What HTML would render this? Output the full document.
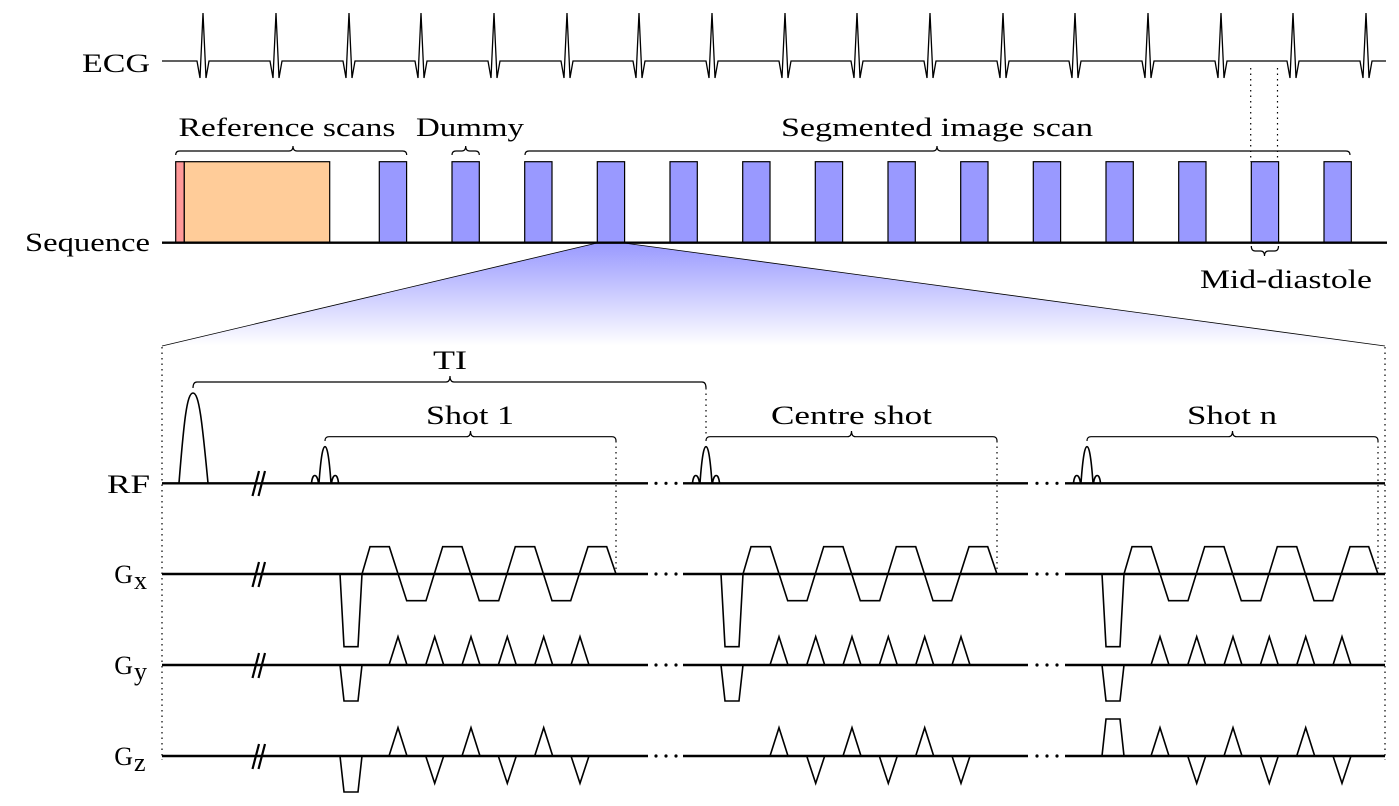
<!DOCTYPE html>
<html><head><meta charset="utf-8"><style>html,body{margin:0;padding:0;background:#fff}svg{display:block}text{font-family:"Liberation Serif",serif;font-size:26px;fill:#000}</style></head>
<body>
<svg width="1399" height="806" viewBox="0 0 1399 806" xmlns="http://www.w3.org/2000/svg">
<defs>
<linearGradient id="fan" x1="0" y1="0" x2="0" y2="1">
<stop offset="0" stop-color="#9999ff"/><stop offset="1" stop-color="#ffffff"/>
</linearGradient>
<g id="shot" fill="none" stroke="#000" stroke-width="1.6" stroke-linejoin="miter">
<path d="M319,483 C321,455 323,446.7 325,446.7 C327,446.7 329,455 331,483"/>
<path d="M311.5,483 C312.5,473 317,473 318.5,483"/>
<path d="M331.5,483 C333,473 337.5,473 338.5,483"/>
<path d="M325,441 Q325,436.7 329,436.7 L466.5,436.7 Q470.5,436.7 470.5,431 Q470.5,436.7 474.5,436.7 L612,436.7 Q616,436.7 616,441" stroke-width="1.2"/>
<line x1="616" y1="441" x2="616" y2="574" stroke-width="1.2" stroke-dasharray="1.5,4"/>
<path d="M340,574 L344,646.7 L358,646.7 L362,574 L370,546.7 L389.3,546.7 L406.7,600.7 L426,600.7 L442.7,546.7 L462,546.7 L479.3,600.7 L498.7,600.7 L515.3,546.7 L534.7,546.7 L552,600.7 L570.7,600.7 L588,546.7 L606.7,546.7 L616,574"/>
<path d="M340,665 L344,701 L358,701 L362,665"/>
<path d="M389,665 L398,636.7 L407,665 M425.7,665 L434.7,636.7 L443.7,665 M462,665 L471,636.7 L480,665 M498.3,665 L507.3,636.7 L516.3,665 M534.7,665 L543.7,636.7 L552.7,665 M571,665 L580,636.7 L589,665"/>
<path d="M389,756 L398,727.7 L407,756 M462,756 L471,727.7 L480,756 M534.7,756 L543.7,727.7 L552.7,756"/>
<path d="M425.7,756 L434.7,783.3 L443.7,756 M498.3,756 L507.3,783.3 L516.3,756 M571,756 L580,783.3 L589,756"/>
</g>
</defs>

<polyline fill="none" stroke="#000" stroke-width="1.3" points="162,61 197,61 200,78 203,13 206,78 209,61 270,61 273,78 276,13 279,78 282,61 343,61 346,78 349,13 352,78 355,61 415,61 418,78 421,13 424,78 427,61 488,61 491,78 494,13 497,78 500,61 561,61 564,78 567,13 570,78 573,61 633,61 636,78 639,13 642,78 645,61 706,61 709,78 712,13 715,78 718,61 779,61 782,78 785,13 788,78 791,61 851,61 854,78 857,13 860,78 863,61 924,61 927,78 930,13 933,78 936,61 997,61 1000,78 1003,13 1006,78 1009,61 1069,61 1072,78 1075,13 1078,78 1081,61 1142,61 1145,78 1148,13 1151,78 1154,61 1215,61 1218,78 1221,13 1224,78 1227,61 1287,61 1290,78 1293,13 1296,78 1299,61 1360,61 1363,78 1366,13 1369,78 1372,61 1386,61"/>
<text x="150" y="72" text-anchor="end" textLength="68" lengthAdjust="spacingAndGlyphs">ECG</text>

<g stroke="#000" stroke-width="1.2" stroke-dasharray="1.5,4">
<line x1="1250.7" y1="68" x2="1250.7" y2="162"/>
<line x1="1277.5" y1="68" x2="1277.5" y2="162"/>
</g>

<polygon points="597,243 624,243 1385,346 162,346" fill="url(#fan)"/>
<g stroke="#000" stroke-width="0.8">
<line x1="597" y1="243" x2="162" y2="346"/>
<line x1="624" y1="243" x2="1385" y2="346"/>
</g>

<g stroke="#000" stroke-width="1.2">
<rect x="175.7" y="161.7" width="8.6" height="81" fill="#ff9999"/>
<rect x="184.3" y="161.7" width="145.4" height="81" fill="#ffcc99"/>
<g fill="#9999ff">
<rect x="379.3" y="161.7" width="27.3" height="81"/>
<rect x="452" y="161.7" width="27.3" height="81"/>
<rect x="524.7" y="161.7" width="27.3" height="81"/>
<rect x="597.3" y="161.7" width="27.3" height="81"/>
<rect x="670" y="161.7" width="27.3" height="81"/>
<rect x="742.7" y="161.7" width="27.3" height="81"/>
<rect x="815.3" y="161.7" width="27.3" height="81"/>
<rect x="888" y="161.7" width="27.3" height="81"/>
<rect x="960.7" y="161.7" width="27.3" height="81"/>
<rect x="1033.3" y="161.7" width="27.3" height="81"/>
<rect x="1106" y="161.7" width="27.3" height="81"/>
<rect x="1178.7" y="161.7" width="27.3" height="81"/>
<rect x="1251.3" y="161.7" width="27.3" height="81"/>
<rect x="1324" y="161.7" width="27.3" height="81"/>
</g>
</g>
<line x1="162" y1="242.7" x2="1387" y2="242.7" stroke="#000" stroke-width="2.4"/>
<text x="150" y="251" text-anchor="end" textLength="125" lengthAdjust="spacingAndGlyphs">Sequence</text>

<g fill="none" stroke="#000" stroke-width="1.2">
<path d="M175.7,155 Q175.7,151 179.7,151 L289,151 Q293,151 293,146 Q293,151 297,151 L402.7,151 Q406.7,151 406.7,155"/>
<path d="M452,155 Q452,151 456,151 L461.7,151 Q465.7,151 465.7,146 Q465.7,151 469.7,151 L475.3,151 Q479.3,151 479.3,155"/>
<path d="M525,155 Q525,151 529,151 L933,151 Q937,151 937,146 Q937,151 941,151 L1346,151 Q1350,151 1350,155"/>
<path d="M1251.3,246 Q1251.3,251 1255.3,251 L1260.5,251 Q1264.5,251 1264.5,256 Q1264.5,251 1268.5,251 L1274.5,251 Q1278.5,251 1278.5,246"/>
<path d="M193,388 Q193,382 197,382 L446,382 Q450,382 450,376 Q450,382 454,382 L702,382 Q706,382 706,388"/>
</g>
<text x="287" y="136" text-anchor="middle" textLength="217" lengthAdjust="spacingAndGlyphs">Reference scans</text>
<text x="470" y="136" text-anchor="middle" textLength="108" lengthAdjust="spacingAndGlyphs">Dummy</text>
<text x="937" y="136" text-anchor="middle" textLength="312" lengthAdjust="spacingAndGlyphs">Segmented image scan</text>
<text x="1286" y="288" text-anchor="middle" textLength="172" lengthAdjust="spacingAndGlyphs">Mid-diastole</text>
<text x="450" y="369" text-anchor="middle" textLength="34" lengthAdjust="spacingAndGlyphs">TI</text>
<text x="470" y="424" text-anchor="middle" textLength="88" lengthAdjust="spacingAndGlyphs">Shot 1</text>
<text x="851.5" y="424" text-anchor="middle" textLength="161" lengthAdjust="spacingAndGlyphs">Centre shot</text>
<text x="1232" y="424" text-anchor="middle" textLength="90" lengthAdjust="spacingAndGlyphs">Shot n</text>

<g stroke="#000" stroke-width="1.2" stroke-dasharray="1.5,4">
<line x1="162" y1="347" x2="162" y2="760"/>
<line x1="1385" y1="347" x2="1385" y2="760"/>
<line x1="706" y1="388" x2="706" y2="437"/>
</g>

<g stroke="#000" stroke-width="2.4">
<path d="M162,483.3 H648 M683,483.3 H1028 M1065,483.3 H1385"/>
<path d="M162,574 H648 M683,574 H1028 M1065,574 H1385"/>
<path d="M162,665 H648 M683,665 H1028 M1065,665 H1385"/>
<path d="M162,756 H648 M683,756 H1028 M1065,756 H1385"/>
</g>
<g fill="#000">
<circle cx="656" cy="483.3" r="1.6"/><circle cx="666" cy="483.3" r="1.6"/><circle cx="676" cy="483.3" r="1.6"/>
<circle cx="1037" cy="483.3" r="1.6"/><circle cx="1047" cy="483.3" r="1.6"/><circle cx="1057" cy="483.3" r="1.6"/>
<circle cx="656" cy="574" r="1.6"/><circle cx="666" cy="574" r="1.6"/><circle cx="676" cy="574" r="1.6"/>
<circle cx="1037" cy="574" r="1.6"/><circle cx="1047" cy="574" r="1.6"/><circle cx="1057" cy="574" r="1.6"/>
<circle cx="656" cy="665" r="1.6"/><circle cx="666" cy="665" r="1.6"/><circle cx="676" cy="665" r="1.6"/>
<circle cx="1037" cy="665" r="1.6"/><circle cx="1047" cy="665" r="1.6"/><circle cx="1057" cy="665" r="1.6"/>
<circle cx="656" cy="756" r="1.6"/><circle cx="666" cy="756" r="1.6"/><circle cx="676" cy="756" r="1.6"/>
<circle cx="1037" cy="756" r="1.6"/><circle cx="1047" cy="756" r="1.6"/><circle cx="1057" cy="756" r="1.6"/>
</g>

<g stroke="#000" stroke-width="2.2">
<path d="M252.5,496 L259,471 M258.5,496 L265,471"/>
<path d="M252.5,587 L259,562 M258.5,587 L265,562"/>
<path d="M252.5,678 L259,653 M258.5,678 L265,653"/>
<path d="M252.5,769 L259,744 M258.5,769 L265,744"/>
</g>

<path d="M179,483 C184,420 187,393 193,393 C199,393 202,420 208,483" fill="none" stroke="#000" stroke-width="1.6"/>

<use href="#shot" x="0" y="0"/>
<use href="#shot" x="381" y="0"/>
<use href="#shot" x="762" y="0"/>

<g fill="none" stroke="#000" stroke-width="1.6">
<path d="M340,756 L344,792 L358,792 L362,756"/>
<path d="M1102,756 L1106,719 L1120,719 L1124,756"/>
</g>

<text x="150" y="493" text-anchor="end" textLength="43" lengthAdjust="spacingAndGlyphs">RF</text>
<text x="133" y="583" text-anchor="end" font-size="28">G</text><text x="134" y="589" font-size="18">x</text>
<text x="133" y="674" text-anchor="end" font-size="28">G</text><text x="134" y="680" font-size="18">y</text>
<text x="133" y="765" text-anchor="end" font-size="28">G</text><text x="134" y="771" font-size="18">z</text>
</svg>
</body></html>
